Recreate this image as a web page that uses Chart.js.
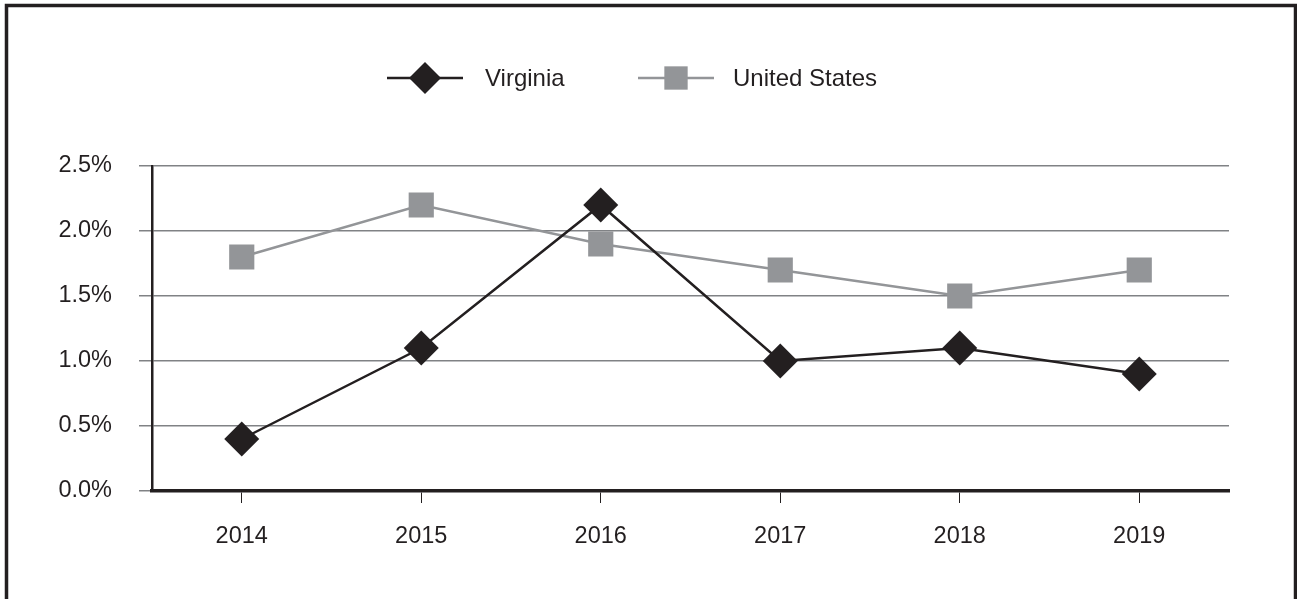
<!DOCTYPE html>
<html>
<head>
<meta charset="utf-8">
<script src="https://cdn.jsdelivr.net/npm/chart.js@4.4.0/dist/chart.umd.min.js"></script>
<style>
  html, body { margin: 0; padding: 0; background: #fff; }
  #wrap { width: 1297px; height: 599px; position: relative; }
</style>
</head>
<body>
<div id="wrap"><canvas id="myChart" width="1297" height="599"></canvas></div>
<script>
const anos = ["2014", "2015", "2016", "2017", "2018", "2019"];
const virginia = [0.4, 1.1, 2.2, 1.0, 1.1, 0.9];
const estadosUnidos = [1.8, 2.2, 1.9, 1.7, 1.5, 1.7];
const ticksY = [0, 0.5, 1.0, 1.5, 2.0, 2.5];

const preto = "#231f20";
const cinza = "#939598";
const fonte = "'Liberation Sans', Arial, sans-serif";

// moldura em volta da imagem
const moldura = {
    id: "moldura",
    afterDraw(chart) {
        const ctx = chart.ctx;
        ctx.save();
        ctx.strokeStyle = preto;
        ctx.lineWidth = 3.5;
        ctx.strokeRect(6.5, 5.5, 1289, 620);
        ctx.restore();
    }
};

// legenda com linha + marcador, como no original
const legenda = {
    id: "legenda",
    afterDraw(chart) {
        const ctx = chart.ctx;
        const itens = [
            { ds: chart.data.datasets[0], x: 387, r: 16, tx: 485 },
            { ds: chart.data.datasets[1], x: 638, r: 16.5, tx: 733 }
        ];
        const y = 78;
        ctx.save();
        itens.forEach(item => {
            ctx.strokeStyle = item.ds.borderColor;
            ctx.lineWidth = item.ds.borderWidth;
            ctx.beginPath();
            ctx.moveTo(item.x, y);
            ctx.lineTo(item.x + 76, y);
            ctx.stroke();
            ctx.fillStyle = item.ds.pointBackgroundColor;
            Chart.helpers.drawPoint(ctx, {
                pointStyle: item.ds.pointStyle,
                radius: item.r,
                borderWidth: 0,
                rotation: 0
            }, item.x + 38, y);
            ctx.fillStyle = preto;
            ctx.font = "24px " + fonte;
            ctx.textBaseline = "middle";
            ctx.textAlign = "left";
            ctx.fillText(item.ds.label, item.tx, y + 1);
        });
        ctx.restore();
    }
};

const data = {
    labels: anos,
    datasets: [
        {
            label: "Virginia",
            data: virginia,
            borderColor: preto,
            borderWidth: 2.5,
            pointStyle: "rectRot",
            pointRadius: 17.5,
            pointBackgroundColor: preto,
            pointBorderWidth: 0,
            tension: 0
        },
        {
            label: "United States",
            data: estadosUnidos,
            borderColor: cinza,
            borderWidth: 2.5,
            pointStyle: "rect",
            pointRadius: 17.8,
            pointBackgroundColor: cinza,
            pointBorderWidth: 0,
            tension: 0
        }
    ]
};

const config = {
    type: "line",
    data,
    options: {
        responsive: false,
        animation: false,
        events: [],
        layout: {
            padding: { top: 166, right: 68, left: 0, bottom: 0 }
        },
        plugins: {
            legend: { display: false },
            tooltip: { enabled: false }
        },
        scales: {
            x: {
                offset: true,
                grid: {
                    offset: false,
                    drawOnChartArea: false,
                    drawTicks: true,
                    tickLength: 12,
                    color: preto,
                    lineWidth: 1
                },
                border: { color: preto, width: 3.5 },
                ticks: {
                    color: preto,
                    padding: 19,
                    font: { family: fonte, size: 23.5 }
                },
                afterFit(scale) { scale.height = 108; }
            },
            y: {
                min: 0,
                max: 2.5,
                afterBuildTicks(scale) {
                    scale.ticks = ticksY.map(v => ({ value: v }));
                },
                grid: {
                    color: "#808285",
                    lineWidth: 1.5,
                    tickLength: 13,
                    drawTicks: true
                },
                border: { color: preto, width: 2.5 },
                ticks: {
                    color: preto,
                    padding: 27,
                    font: { family: fonte, size: 23.5 },
                    callback: v => v.toFixed(1) + "%"
                },
                afterFit(scale) { scale.width = 152; }
            }
        }
    },
    plugins: [moldura, legenda]
};

const myChart = new Chart(document.getElementById("myChart").getContext("2d"), config);
</script>
</body>
</html>
